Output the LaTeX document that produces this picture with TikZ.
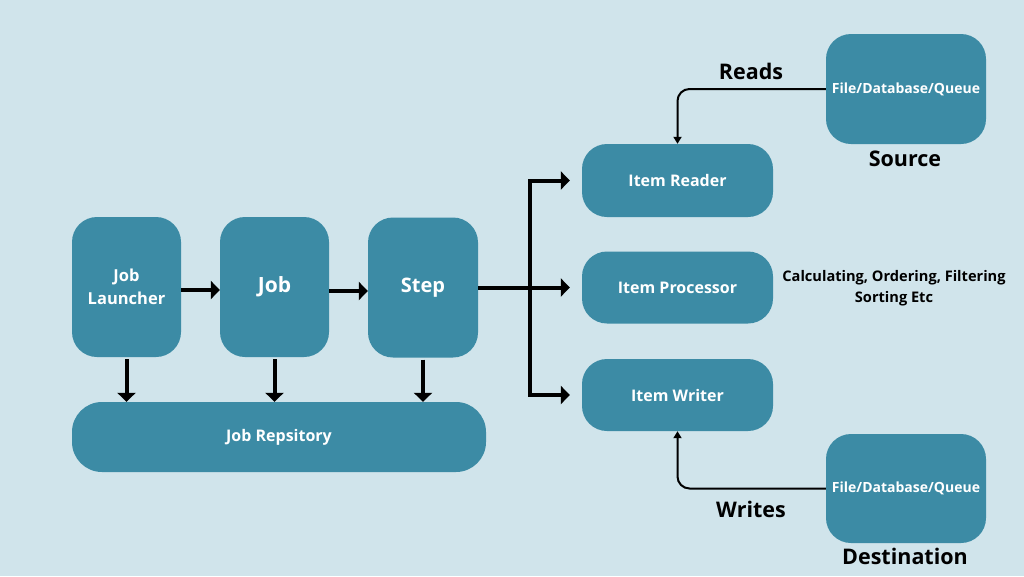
\documentclass[tikz,border=0pt]{standalone}
\usepackage{fontspec}
\setmainfont{Open Sans}
\usetikzlibrary{arrows.meta}
\definecolor{bgc}{RGB}{208,228,235}
\definecolor{boxc}{RGB}{60,139,165}
\tikzset{
  box/.style={fill=boxc, draw=none, rounded corners=25pt, text=white, font=\bfseries, align=center, inner sep=0pt},
  bigarr/.style={line width=4pt, -{Triangle[length=9pt,width=18pt]}},
  thinarr/.style={line width=2pt, rounded corners=12pt, -{Triangle[length=7pt,width=8pt]}},
  lbl/.style={font=\bfseries, text=black}
}
\begin{document}
\begin{tikzpicture}[x=1pt,y=-1pt]
\fill[bgc] (0,0) rectangle (1024,576);
\useasboundingbox (0,0) rectangle (1024,576);
% left boxes
\node[box, minimum width=109pt, minimum height=140pt, font=\bfseries\fontsize{16.5}{23}\selectfont] (launcher) at (126.5,287) {Job\\Launcher};
\node[box, minimum width=109pt, minimum height=140pt, font=\bfseries\fontsize{21}{24}\selectfont] (job) at (274.5,287) {\raisebox{-3pt}{Job}};
\node[box, minimum width=110pt, minimum height=140pt, font=\bfseries\fontsize{20}{24}\selectfont] (step) at (423,287.5) {\raisebox{-2pt}{Step}};
\node[box, rounded corners=30pt, minimum width=414pt, minimum height=70pt, font=\bfseries\fontsize{16}{20}\selectfont] (repo) at (279,437) {Job Repsitory};
% item boxes
\node[box, minimum width=191pt, minimum height=73pt, font=\bfseries\fontsize{16}{20}\selectfont] (reader) at (677.5,180.5) {Item Reader};
\node[box, minimum width=191pt, minimum height=72pt, font=\bfseries\fontsize{16}{20}\selectfont] (proc) at (677.5,287.5) {Item Processor};
\node[box, minimum width=191pt, minimum height=72pt, font=\bfseries\fontsize{16}{20}\selectfont] (writer) at (677.5,395) {Item Writer};
% source / destination
\node[box, minimum width=160pt, minimum height=110pt, font=\bfseries\fontsize{14}{16}\selectfont] (src) at (906,89) {File/Database/Queue};
\node[box, minimum width=160pt, minimum height=109pt, font=\bfseries\fontsize{14}{16}\selectfont] (dst) at (906,488.5) {File/Database/Queue};
% labels
\node[lbl, font=\bfseries\fontsize{21.5}{24}\selectfont] (reads) at (751,71) {Reads};
\node[lbl, font=\bfseries\fontsize{21.5}{24}\selectfont] (source) at (905,159) {Source};
\node[lbl, font=\bfseries\fontsize{21.5}{24}\selectfont] (writes) at (751,509) {Writes};
\node[lbl, font=\bfseries\fontsize{21.5}{24}\selectfont] (destination) at (905,556) {Destination};
\node[lbl, align=center, font=\bfseries\fontsize{14.6}{21}\selectfont] (calc) at (894,288) {Calculating, Ordering, Filtering\\Sorting Etc};
% arrows
\draw[bigarr] (launcher.east |- 0,290) -- (job.west |- 0,290);
\draw[bigarr] (job.east |- 0,291) -- (step.west |- 0,291);
\draw[bigarr] ([yshift=-2pt]launcher.south) -- (repo.north -| launcher.south);
\draw[bigarr] ([yshift=-2pt]job.south) -- (repo.north -| job.south);
\draw[bigarr] ([yshift=-2pt]step.south) -- (repo.north -| step.south);
\coordinate (br) at (530,287.5);
\draw[bigarr] (step.east) -- ([xshift=-12pt]proc.west);
\draw[bigarr, line join=miter] (br) |- ([xshift=-12pt]reader.west);
\draw[bigarr, line join=miter] (br) |- ([xshift=-12pt]writer.west);
\draw[thinarr] (src.west) -| (reader.north);
\draw[thinarr] (dst.west) -| (writer.south);
\end{tikzpicture}
\end{document}
